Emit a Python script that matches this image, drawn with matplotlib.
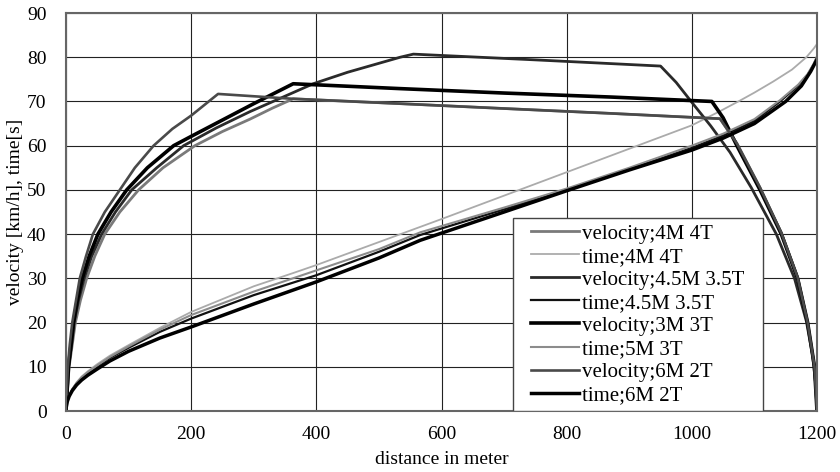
import matplotlib
matplotlib.use("Agg")
import matplotlib.pyplot as plt
from matplotlib.patches import Rectangle

plt.rcParams['font.family'] = ['Liberation Serif', 'DejaVu Serif']

# velocity curves (distance [m], velocity [km/h])
vel_4M4T_x = [0, 2, 5, 10, 15, 23, 33, 46, 62, 86, 116, 155, 206, 250, 294, 330, 363,
              534, 700, 870, 1045, 1072, 1109, 1143, 1169, 1185, 1196, 1200]
vel_4M4T_v = [0, 4, 10, 15, 20, 25, 30, 35, 40, 45, 50, 55, 60, 63.2, 66.0, 68.5, 70.6,
              69.5, 68.4, 67.3, 66.1, 60.5, 50.5, 40.3, 30.2, 20.0, 10.0, 0]

vel_45M35T_x = [0, 2, 4, 9, 13, 20, 29, 41, 57, 79, 105, 145, 188, 240, 294, 363, 395, 450,
                534, 555, 750, 950, 975, 1000, 1030, 1061, 1095, 1135, 1164, 1183, 1193, 1198, 1200]
vel_45M35T_v = [0, 4, 10, 15, 20, 25, 30, 35, 40, 45, 50, 55, 60, 64, 67.7, 72.0, 74.0, 76.6,
                80.0, 80.7, 79.4, 78.0, 74.3, 69.8, 64.5, 58.5, 50.5, 40.0, 30.0, 20.3, 12.5, 6.0, 0]

vel_3M3T_x = [0, 1.5, 4, 8, 12, 18, 26, 37, 51, 72, 97, 130, 172, 200, 250, 300, 363,
              534, 700, 870, 1032, 1050, 1072, 1109, 1143, 1169, 1185, 1196, 1200]
vel_3M3T_v = [0, 4, 10, 15, 20, 25, 30, 35, 40, 45, 50, 55, 60, 62.1, 65.8, 69.5, 74.0,
              72.9, 71.9, 71.0, 70.0, 66.3, 60.0, 50.0, 40.0, 30.0, 20.0, 10.0, 0]

vel_6M2T_x = [0, 1, 3, 6, 10, 16, 22, 32, 43, 62, 86, 110, 140, 170, 200, 243, 340, 363,
              534, 700, 870, 1045, 1072, 1109, 1143, 1169, 1185, 1196, 1200]
vel_6M2T_v = [0, 4, 10, 15, 20, 25, 30, 35, 40, 45, 50, 55, 60, 63.8, 66.8, 71.7, 70.8, 70.6,
              69.5, 68.4, 67.3, 66.1, 60.5, 50.5, 40.3, 30.2, 20.0, 10.0, 0]

# time curves (distance [m], time [s])
time_4M4T_x = [0, 1, 2, 5, 10, 17, 25, 35, 50, 70, 100, 150, 200, 300, 363, 400, 500, 600,
               700, 800, 900, 1000, 1045, 1077, 1100, 1130, 1160, 1183, 1195, 1200]
time_4M4T_t = [0.5, 1.6, 2.3, 3.6, 5.0, 6.5, 7.8, 9.0, 10.6, 12.5, 14.9, 18.8, 22.4, 28.2,
               31.2, 33.0, 38.2, 43.4, 48.7, 54.0, 59.3, 64.6, 67.8, 70.2, 72.0, 74.5, 77.2,
               80.0, 82.0, 83.0]

time_45M35T_x = [0, 1, 2, 5, 10, 17, 25, 35, 50, 70, 100, 150, 200, 300, 400, 500, 566, 700,
                 800, 900, 1000, 1050, 1100, 1141, 1170, 1185, 1195, 1200]
time_45M35T_t = [0.5, 1.5, 2.2, 3.4, 4.8, 6.2, 7.4, 8.6, 10.1, 12.0, 14.3, 17.9, 20.9, 26.2,
                 30.7, 36.0, 39.8, 45.6, 50.0, 54.7, 59.5, 62.3, 65.6, 70.0, 73.6, 76.0, 78.4, 80.0]

time_5M3T_x = [0, 1, 2, 5, 10, 17, 25, 35, 50, 70, 100, 150, 200, 300, 400, 500, 566, 700,
               800, 900, 1000, 1050, 1100, 1141, 1170, 1185, 1195, 1200]
time_5M3T_t = [0.5, 1.5, 2.3, 3.5, 4.9, 6.3, 7.6, 8.8, 10.3, 12.2, 14.6, 18.4, 21.7, 27.0,
               31.8, 36.6, 40.4, 46.0, 50.3, 55.0, 60.0, 62.7, 66.0, 70.3, 73.8, 76.2, 78.6, 80.2]

time_6M2T_x = [0, 1, 2, 5, 10, 17, 25, 35, 50, 70, 100, 150, 200, 300, 400, 500, 566, 700,
               800, 900, 1000, 1050, 1100, 1150, 1175, 1190, 1200]
time_6M2T_t = [0.5, 1.4, 2.1, 3.3, 4.6, 5.9, 7.0, 8.1, 9.5, 11.3, 13.5, 16.5, 19.0, 24.2,
               29.2, 34.6, 38.6, 45.0, 49.8, 54.5, 59.0, 61.7, 65.0, 70.0, 73.5, 76.8, 79.5]

fig = plt.figure(figsize=(8.4, 4.72), dpi=100)
ax = fig.add_axes([66/840, 1 - 411/472, (817 - 66)/840, (411 - 13)/472])

ax.plot(vel_4M4T_x, vel_4M4T_v, color='#7a7a7a', lw=2.0, label='velocity;4M 4T')
ax.plot(time_4M4T_x, time_4M4T_t, color='#ababab', lw=1.3, label='time;4M 4T')
ax.plot(vel_45M35T_x, vel_45M35T_v, color='#2a2a2a', lw=2.0, label='velocity;4.5M 3.5T')
ax.plot(time_45M35T_x, time_45M35T_t, color='#111111', lw=1.6, label='time;4.5M 3.5T')
ax.plot(vel_3M3T_x, vel_3M3T_v, color='black', lw=2.6, label='velocity;3M 3T')
ax.plot(time_5M3T_x, time_5M3T_t, color='#8c8c8c', lw=1.5, label='time;5M 3T')
ax.plot(vel_6M2T_x, vel_6M2T_v, color='#4a4a4a', lw=1.9, label='velocity;6M 2T')
ax.plot(time_6M2T_x, time_6M2T_t, color='black', lw=2.5, label='time;6M 2T')

ax.set_xlim(0, 1200)
ax.set_ylim(0, 90)
ax.set_xticks(range(0, 1201, 200))
ax.set_yticks(range(0, 91, 10))
ax.grid(True, color='#222222', lw=0.8)
ax.set_axisbelow(True)
for s in ax.spines.values():
    s.set_color('#666666')
    s.set_linewidth(1.5)
ax.tick_params(axis='both', length=0, labelsize=14)
ax.tick_params(axis='x', pad=11)
ax.tick_params(axis='y', pad=14)
ax.set_xlabel("distance in meter", fontsize=14)
ax.xaxis.set_label_coords(0.5, -0.1)
ax.set_ylabel("velocity [km/h], time[s]", fontsize=14)
ax.yaxis.set_label_coords(-0.056, 0.5)

# legend box (white panel in the lower right)
box = Rectangle((0.595, 0.0), 0.333, 0.485, transform=ax.transAxes, facecolor='white',
                edgecolor='#444444', lw=1.0, zorder=4)
ax.add_patch(box)
leg = ax.legend(loc='center', bbox_to_anchor=(0.595 + 0.333/2, 0.485/2), fontsize=15,
                frameon=False, handlelength=2.3, handletextpad=0.15, labelspacing=0.165,
                borderpad=0.2, borderaxespad=0)
leg.set_zorder(5)

fig.savefig("out.png", dpi=100)
